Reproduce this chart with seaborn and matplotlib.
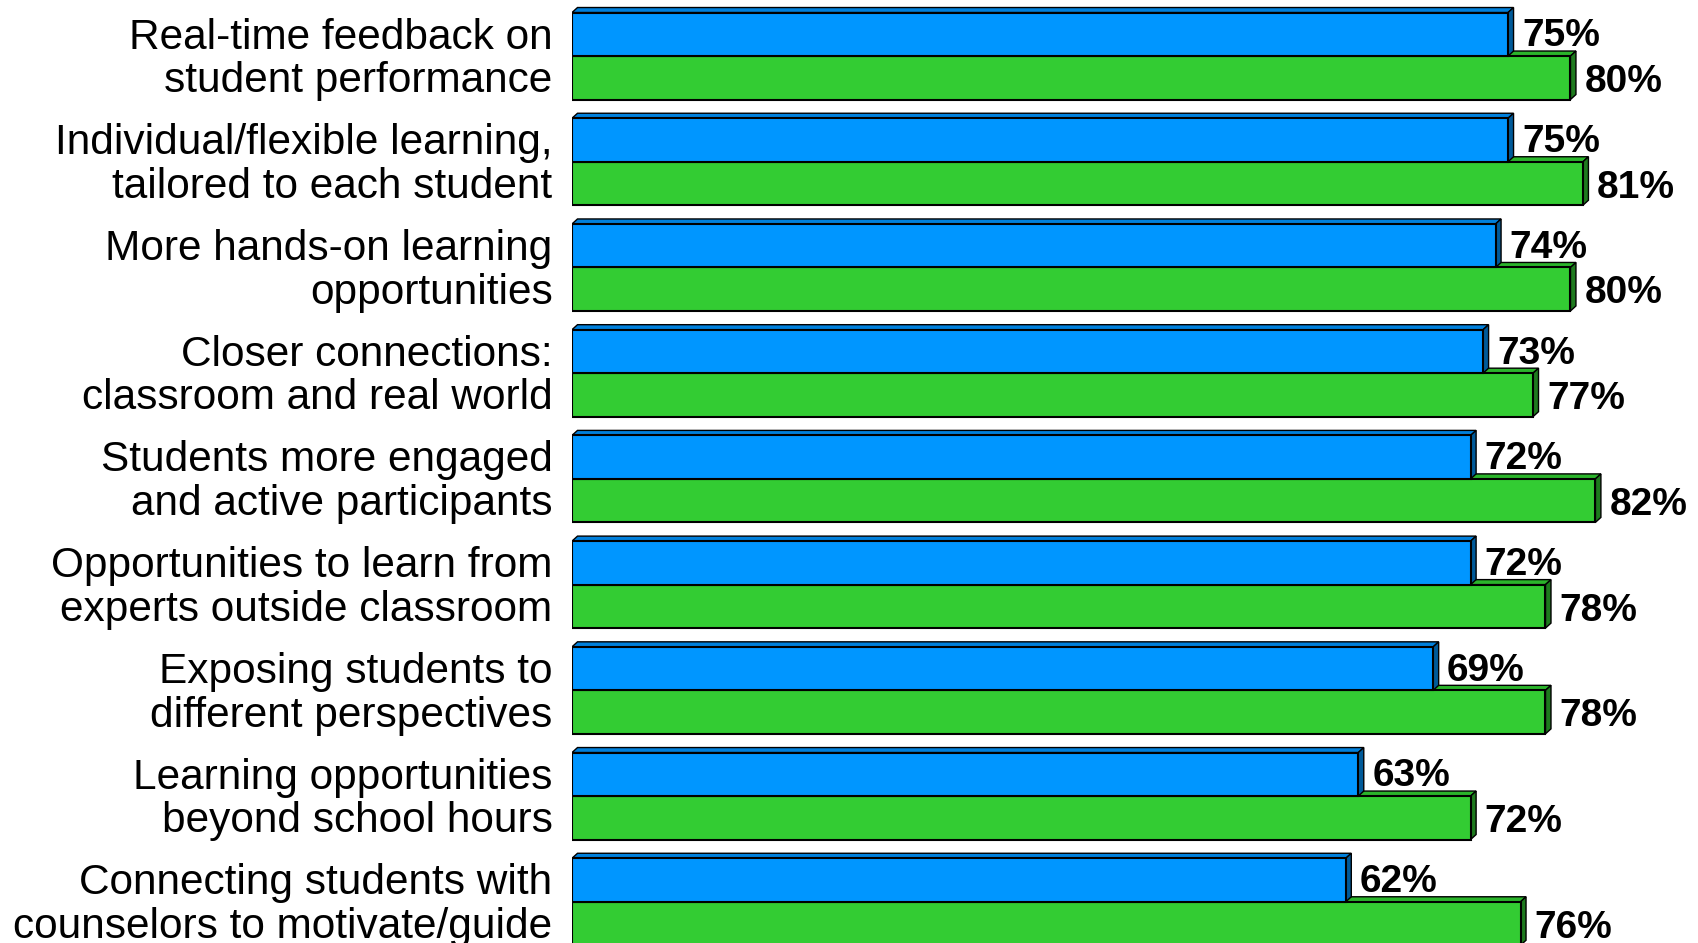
import pandas as pd
import matplotlib
matplotlib.use("Agg")
import matplotlib.pyplot as plt
import matplotlib.transforms as mtransforms
from matplotlib.patches import Polygon
import seaborn as sns

# data
items = [
    "Real-time feedback on\nstudent performance",
    "Individual/flexible learning,\ntailored to each student",
    "More hands-on learning\nopportunities",
    "Closer connections:\nclassroom and real world",
    "Students more engaged\nand active participants",
    "Opportunities to learn from\nexperts outside classroom",
    "Exposing students to\ndifferent perspectives",
    "Learning opportunities\nbeyond school hours",
    "Connecting students with\ncounselors to motivate/guide",
]
series_names = ["Blue", "Green"]
blue_vals = [75, 75, 74, 73, 72, 72, 69, 63, 62]
green_vals = [80, 81, 80, 77, 82, 78, 78, 72, 76]

df = pd.DataFrame({
    "item": items * 2,
    "series": [series_names[0]] * len(items) + [series_names[1]] * len(items),
    "value": blue_vals + green_vals,
})

face_cols = ["#0096FF", "#33CC33"]
top_cols = ["#0080DC", "#2BB42B"]
side_cols = ["#005A99", "#1E7A1E"]

sns.set_theme(style="white")
plt.rcParams["font.family"] = ["Liberation Sans", "DejaVu Sans"]

fig = plt.figure(figsize=(16.99, 9.43), dpi=100)
left = 572 / 1699
ax = fig.add_axes([left, 0, 1 - left, 1])

sns.barplot(data=df, x="value", y="item", hue="series", palette=face_cols,
            width=0.823, saturation=1, edgecolor="black", linewidth=1.5,
            legend=False, orient="h", ax=ax)

ax.set_xlim(0, 90.3)
ax.set_ylim(8.39, -0.53)

# fake 3D depth: ~5.5 px right, ~5 px up
dx = 5.5 / 12.48
dy = 5.0 / 105.7
for k, cont in enumerate(ax.containers):
    z = 3 - k
    for p in cont.patches:
        p.set_zorder(z)
        x1 = p.get_x() + p.get_width()
        y0 = p.get_y()
        y1 = y0 + p.get_height()
        top_y = min(y0, y1)
        bot_y = max(y0, y1)
        top = Polygon([(0, top_y), (dx, top_y - dy), (x1 + dx, top_y - dy), (x1, top_y)],
                      closed=True, facecolor=top_cols[k], edgecolor="black",
                      linewidth=1.0, zorder=z - 0.5)
        side = Polygon([(x1, top_y), (x1 + dx, top_y - dy), (x1 + dx, bot_y - dy), (x1, bot_y)],
                       closed=True, facecolor=side_cols[k], edgecolor="black",
                       linewidth=1.0, zorder=z - 0.5)
        ax.add_patch(top)
        ax.add_patch(side)
    labels = ax.bar_label(cont, fmt="{:.0f}%", padding=9, fontsize=28,
                          fontweight="bold", color="black")
    for t in labels:
        t.xyann = (10, -1.5 - 1.5 * k)

ax.set_xlabel("")
ax.set_ylabel("")
ax.set_xticks([])
ax.tick_params(axis="y", length=0, pad=14, labelsize=30.5, labelcolor="black")
shift_up = mtransforms.ScaledTranslation(0, 3 / 100, fig.dpi_scale_trans)
for lab in ax.get_yticklabels():
    lab.set_linespacing(1.12)
    lab.set_transform(lab.get_transform() + shift_up)
for s in ax.spines.values():
    s.set_visible(False)

plt.savefig("out.png", dpi=100)
